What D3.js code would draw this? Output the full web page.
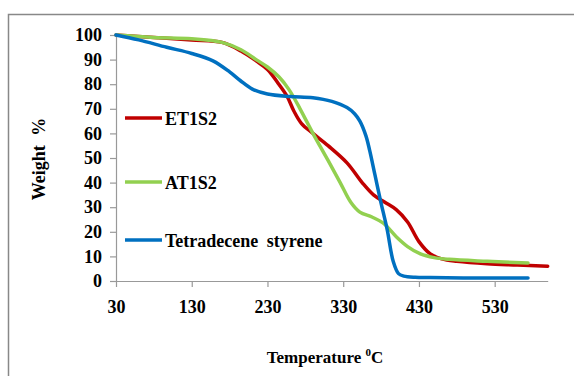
<!DOCTYPE html>
<html><head><meta charset="utf-8">
<script src="https://cdn.jsdelivr.net/npm/d3@7"></script>
<style>body{margin:0;background:#fff}svg{display:block}text{font-family:"Liberation Serif","Times New Roman",serif;font-weight:bold;fill:#000}</style>
</head><body>
<script>
const xTicks = [30, 130, 230, 330, 430, 530];
const yTicks = [0, 10, 20, 30, 40, 50, 60, 70, 80, 90, 100];

const et1s2Temp = [30, 80, 130, 170, 195, 215, 230, 245, 256, 265, 275, 290, 310, 335, 355, 370, 385, 400, 415, 430, 445, 460, 480, 520, 560, 600];
const et1s2Wt   = [100, 99, 98, 97, 93.5, 89.5, 86, 80, 75, 69, 64, 60, 55, 48, 40, 35, 32, 29, 24, 16, 11, 9, 8, 7, 6.5, 6];

const at1s2Temp = [30, 80, 130, 170, 195, 215, 230, 245, 258, 273, 290, 310, 326, 340, 352, 368, 383, 400, 415, 432, 450, 470, 520, 574];
const at1s2Wt   = [100, 99, 98.5, 97, 94, 90, 87, 83, 78, 70, 60, 49, 40, 32, 28, 26, 23.5, 18, 14, 11, 9.5, 8.8, 8, 7.3];

const tsTemp = [30, 60, 97, 130, 158, 180, 194, 210, 230, 260, 290, 315, 335, 345, 352, 360, 365, 372, 379, 388, 396, 403, 410, 425, 445, 500, 574];
const tsWt   = [100, 98, 95, 92.5, 89.5, 85, 81.5, 78, 76, 75, 74.5, 73, 70.5, 68, 65, 59, 53, 43, 33, 21, 8, 3, 2, 1.5, 1.4, 1.2, 1.2];

const seriesNames = ["ET1S2", "AT1S2", "Tetradecene styrene"];
const seriesColors = ["#C00000", "#92D050", "#0070C0"];

const W = 574, H = 376;
const svg = d3.select("body").append("svg").attr("width", W).attr("height", H);

// outer frame
svg.append("path").attr("d", `M8.5,${H+2} L8.5,14.5 L${W+2},14.5`).attr("fill","none").attr("stroke","#888").attr("stroke-width",1.5);

const x = d3.scaleLinear().domain([30, 600]).range([116, 547.7]);
const y = d3.scaleLinear().domain([0, 100]).range([281, 35]);

const gx = svg.append("g").attr("transform", `translate(0,${y(0)})`)
  .call(d3.axisBottom(x).tickValues(xTicks).tickSize(6).tickPadding(13).tickSizeOuter(0));
const gy = svg.append("g").attr("transform", `translate(${x(30)},0)`)
  .call(d3.axisLeft(y).tickValues(yTicks).tickSize(6).tickPadding(8).tickSizeOuter(0));
[gx, gy].forEach(g => {
  g.select(".domain").attr("stroke", "#999").attr("stroke-width", 1.2);
  g.selectAll(".tick line").attr("stroke", "#999").attr("stroke-width", 1.2);
  g.selectAll(".tick text").attr("font-size", 18).attr("font-family", "Liberation Serif").attr("font-weight", "bold").attr("fill", "#000");
});

const line = d3.line().x(d => x(d[0])).y(d => y(d[1])).curve(d3.curveCatmullRom.alpha(0.5));
const data = [
  d3.zip(et1s2Temp, et1s2Wt),
  d3.zip(at1s2Temp, at1s2Wt),
  d3.zip(tsTemp, tsWt)
];
data.forEach((d, i) => {
  svg.append("path").attr("d", line(d)).attr("fill", "none")
    .attr("stroke", seriesColors[i]).attr("stroke-width", 3.5).attr("stroke-linejoin","round").attr("stroke-linecap","round");
});

// legend
const legY = [118, 182, 240];
seriesNames.forEach((n, i) => {
  svg.append("line").attr("x1", 125).attr("x2", 162).attr("y1", legY[i]).attr("y2", legY[i])
    .attr("stroke", seriesColors[i]).attr("stroke-width", 3.5);
  svg.append("text").attr("x", 165).attr("y", legY[i] + 6.5).attr("font-size", 18)
    .attr("word-spacing", i === 2 ? 4 : 0).text(n);
});

// axis titles
svg.append("text").attr("transform", "translate(45,159) rotate(-90)").attr("text-anchor", "middle")
  .attr("font-size", 18).attr("word-spacing", 5).text("Weight %");
const xt = svg.append("text").attr("x", 325).attr("y", 363).attr("text-anchor", "middle").attr("font-size", 17);
xt.append("tspan").text("Temperature ");
xt.append("tspan").attr("font-size", 11).attr("dy", -7).text("0");
xt.append("tspan").attr("dy", 7).text("C");
</script>
</body></html>
